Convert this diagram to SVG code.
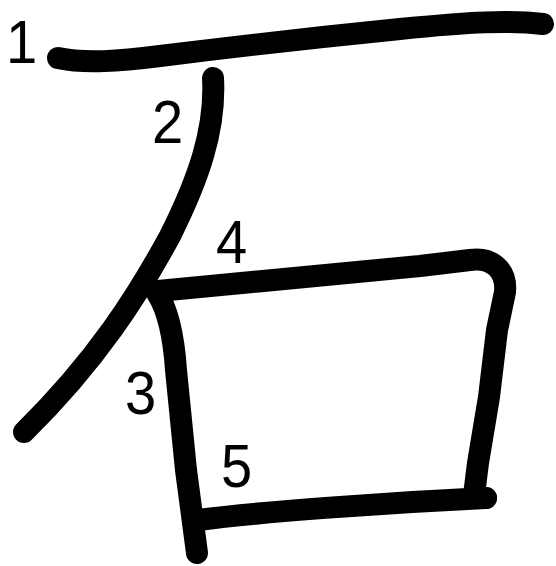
<svg xmlns="http://www.w3.org/2000/svg" width="556" height="566" viewBox="0 0 556 566">
<style>
.s{fill:none;stroke:#000;stroke-width:22;stroke-linecap:round;stroke-linejoin:round}
.n{font-family:"Liberation Sans",Arial,sans-serif;font-size:61px;fill:#000}
</style>
<rect width="556" height="566" fill="#fff"/>
<g id="strokes">
<path id="s1" class="s" d="M58,58 C85,64 120,61 160,56 S330,36 400,29 S510,20 543,24"/>
<path id="s2" class="s" d="M213,78 C216,130 198,180 170,236 C138,295 97,360 24,432"/>
<path id="s3" class="s" d="M157,293 C168,310 174,340 176,370 L186,470 L197,553"/>
<path id="s4" class="s" d="M158,291 L420,266 L470,260 C492,257 507,270 505,292 L497,330 L489,397 L478,463 L474,495"/>
<path id="s5" class="s" stroke-linecap="butt" d="M198,520 C260,512 380,503 486,498"/>
<circle cx="486" cy="498" r="11" fill="#000"/>
</g>
<g id="labels">
<text class="n" transform="translate(6,63) scale(0.92,1)">1</text>
<text class="n" transform="translate(152,143) scale(0.92,1)">2</text>
<text class="n" transform="translate(125,414) scale(0.92,1)">3</text>
<text class="n" transform="translate(216,263) scale(0.92,1)">4</text>
<text class="n" transform="translate(221,487) scale(0.92,1)">5</text>
</g>
</svg>
